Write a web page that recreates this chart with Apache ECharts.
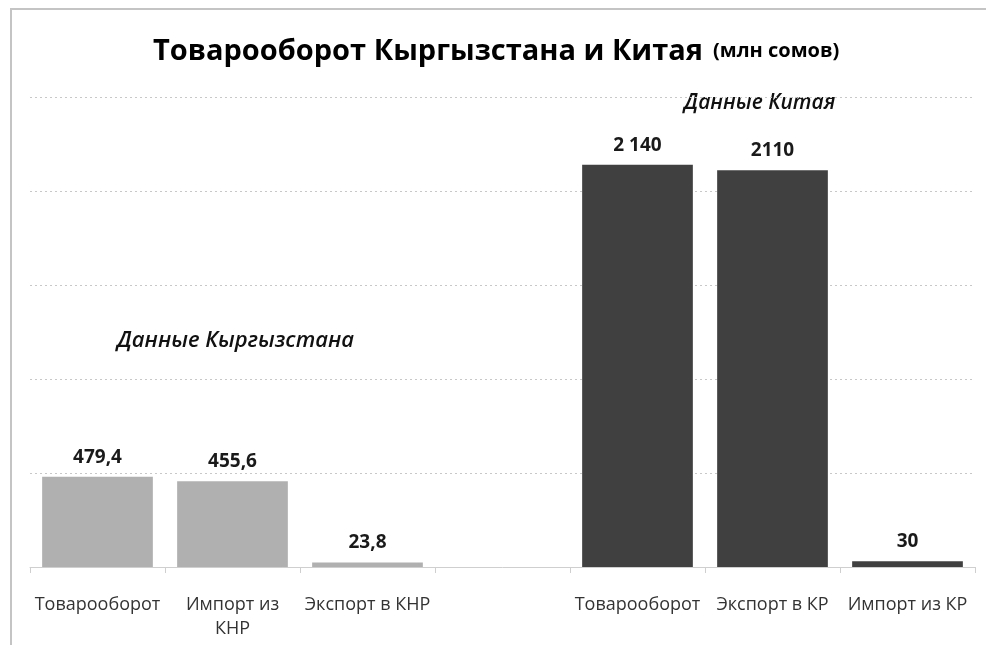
<!DOCTYPE html>
<html>
<head>
<meta charset="utf-8">
<script src="https://cdn.jsdelivr.net/npm/echarts@6/dist/echarts.min.js"></script>
<style>
html, body { margin: 0; padding: 0; background: #fff; }
#chart { width: 986px; height: 645px; }
</style>
</head>
<body>
<div id="chart"></div>
<script>
var categories = ['Товарооборот', 'Импорт из\nКНР', 'Экспорт в КНР', '', 'Товарооборот', 'Экспорт в КР', 'Импорт из КР'];
var kgValues = [479.4, 455.6, 23.8, '-', '-', '-', '-'];
var cnValues = ['-', '-', '-', '-', 2140, 2110, 30];
var valueLabels = ['479,4', '455,6', '23,8', '', '2 140', '2110', '30'];

var chartDom = document.getElementById('chart');
var myChart = echarts.init(chartDom);
var font = '"Open Sans", "Noto Sans", sans-serif';

var labelOpt = {
    show: true,
    position: 'top',
    distance: 10,
    fontFamily: font,
    fontSize: 19,
    fontWeight: 'bold',
    color: '#1a1a1a',
    formatter: function (p) { return valueLabels[p.dataIndex]; }
};

var option = {
    animation: false,
    title: {
        text: '{a|Товарооборот Кыргызстана и Китая}  {b|(млн сомов)}',
        left: 148,
        top: 32,
        textStyle: {
            rich: {
                a: { fontFamily: font, fontSize: 29, fontWeight: 'bold', color: '#000' },
                b: { fontFamily: font, fontSize: 20, fontWeight: 'bold', color: '#000' }
            }
        }
    },
    grid: { left: 30, right: 11, top: 97, bottom: 78 },
    xAxis: {
        type: 'category',
        data: categories,
        axisLine: { lineStyle: { color: '#cfcfcf' } },
        axisTick: { show: true, length: 6, lineStyle: { color: '#cfcfcf' } },
        axisLabel: {
            interval: 0,
            margin: 26,
            fontFamily: font,
            fontSize: 18,
            color: '#333',
            lineHeight: 24
        }
    },
    yAxis: {
        type: 'value',
        min: 0,
        max: 2500,
        interval: 500,
        axisLabel: { show: false },
        axisLine: { show: false },
        axisTick: { show: false },
        splitLine: { lineStyle: { color: '#c8c8c8', type: [2, 3] } }
    },
    graphic: [
        {
            type: 'polyline',
            shape: { points: [[11, 645], [11, 9], [986, 9]] },
            style: { stroke: '#c4c4c4', lineWidth: 2, fill: null }
        },
        {
            type: 'text',
            left: 117,
            top: 330,
            style: { text: 'Данные Кыргызстана', font: 'italic 600 22px ' + font, fill: '#111' }
        },
        {
            type: 'text',
            left: 684,
            top: 93,
            style: { text: 'Данные Китая', font: 'italic 600 21px ' + font, fill: '#111' }
        }
    ],
    series: [
        {
            name: 'Данные Кыргызстана',
            type: 'bar',
            data: kgValues,
            barCategoryGap: '18%',
            barGap: '-100%',
            itemStyle: { color: '#b0b0b0' },
            label: labelOpt
        },
        {
            name: 'Данные Китая',
            type: 'bar',
            data: cnValues,
            barCategoryGap: '18%',
            barGap: '-100%',
            itemStyle: { color: '#404040' },
            label: labelOpt
        }
    ]
};

myChart.setOption(option);
window.addEventListener('resize', function () {
    myChart.resize();
});
</script>
</body>
</html>
